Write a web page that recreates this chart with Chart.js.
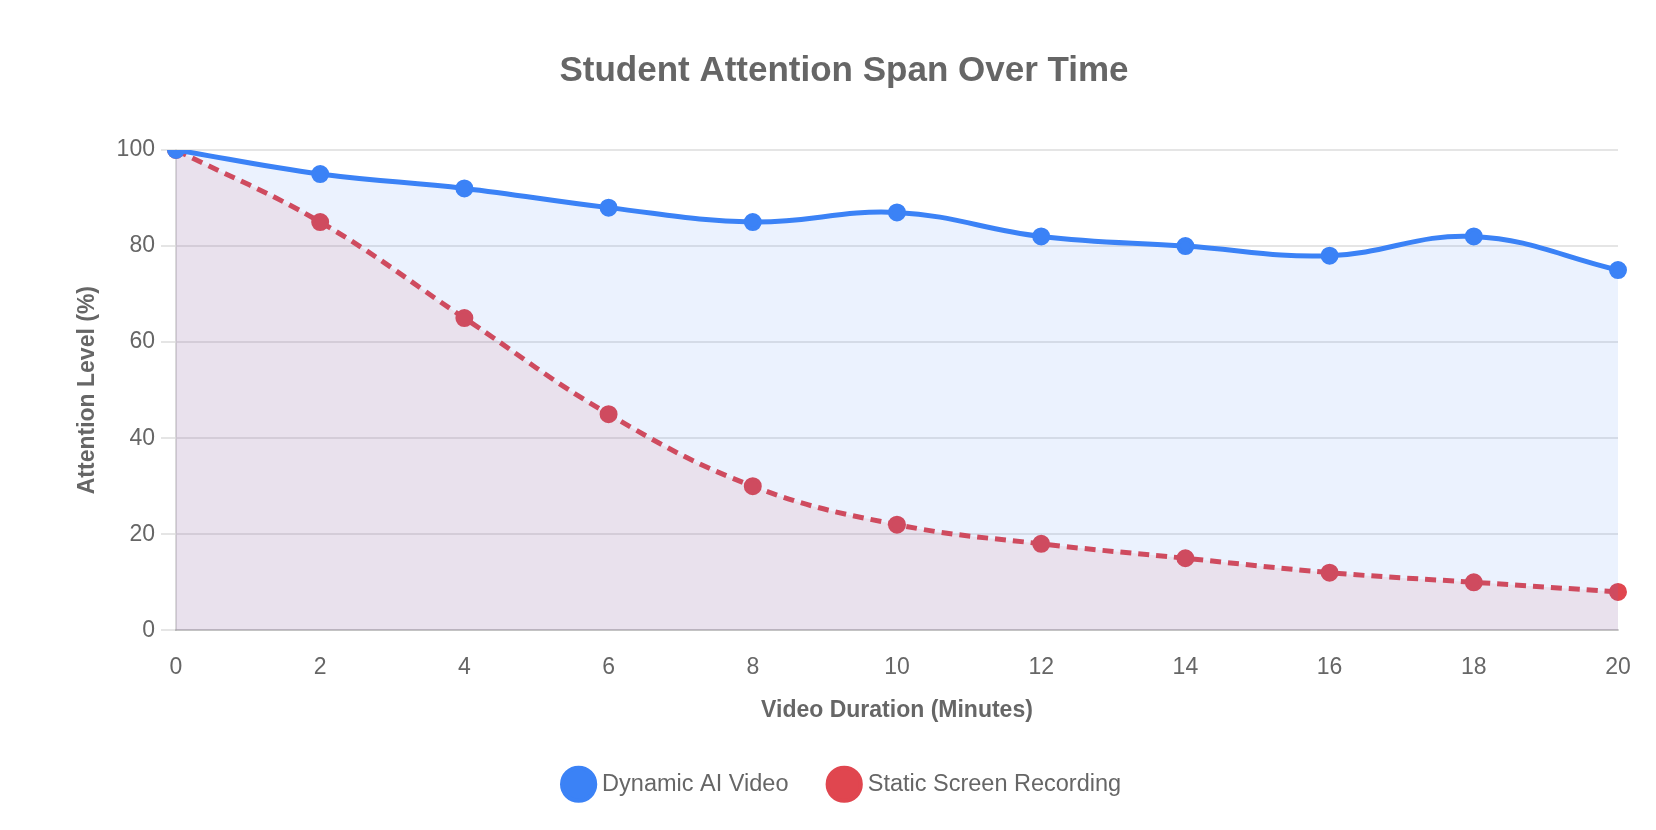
<!DOCTYPE html>
<html>
<head>
<meta charset="utf-8">
<script src="https://cdn.jsdelivr.net/npm/chart.js@4/dist/chart.umd.min.js"></script>
<style>
  html, body { margin: 0; padding: 0; background: #ffffff; }
  #wrap { width: 1656px; height: 830px; }
</style>
</head>
<body>
<div id="wrap"><canvas id="c" width="1656" height="830"></canvas></div>
<script>
const minutes = ['0', '2', '4', '6', '8', '10', '12', '14', '16', '18', '20'];
const dynamicAI = [100, 95, 92, 88, 85, 87, 82, 80, 78, 82, 75];
const staticRec = [100, 85, 65, 45, 30, 22, 18, 15, 12, 10, 8];
const yTicks = [0, 20, 40, 60, 80, 100];

const TXT = '#666666';
const FONT = 'Liberation Sans, Arial, Helvetica, sans-serif';

new Chart(document.getElementById('c'), {
  type: 'line',
  data: {
    labels: minutes,
    datasets: [
      {
        label: 'Dynamic AI Video',
        data: dynamicAI,
        borderColor: '#3b82f6',
        backgroundColor: 'rgba(59,130,246,0.1)',
        pointBackgroundColor: '#3b82f6',
        pointBorderColor: '#3b82f6',
        borderWidth: 5,
        pointRadius: 7,
        pointBorderWidth: 4,
        tension: 0.4,
        fill: 'origin'
      },
      {
        label: 'Static Screen Recording',
        data: staticRec,
        borderColor: '#e0464f',
        backgroundColor: 'rgba(239,68,68,0.1)',
        pointBackgroundColor: '#e0464f',
        pointBorderColor: '#e0464f',
        borderWidth: 5,
        borderDash: [11, 7],
        pointRadius: 7,
        pointBorderWidth: 4,
        tension: 0.4,
        fill: 'origin'
      }
    ]
  },
  options: {
    responsive: false,
    animation: false,
    devicePixelRatio: 1,
    layout: { padding: { left: 70, right: 38, top: 20, bottom: 24 } },
    plugins: {
      title: {
        display: true,
        text: 'Student Attention Span Over Time',
        color: TXT,
        font: { family: FONT, size: 35, weight: 'bold' },
        padding: { top: 30, bottom: 58 }
      },
      legend: {
        position: 'bottom',
        labels: {
          usePointStyle: true,
          pointStyle: 'circle',
          color: TXT,
          font: { family: FONT, size: 23.5 },
          padding: 44
        }
      },
      tooltip: { enabled: false }
    },
    scales: {
      x: {
        grid: { display: false, drawTicks: false },
        border: { display: true, color: 'rgba(0,0,0,0.15)', width: 2 },
        ticks: { color: TXT, font: { family: FONT, size: 23 }, padding: 24, maxRotation: 0 },
        title: {
          display: true,
          text: 'Video Duration (Minutes)',
          color: TXT,
          font: { family: FONT, size: 23, weight: 'bold' },
          padding: { top: -9, bottom: 4 }
        }
      },
      y: {
        min: 0,
        max: 100,
        afterBuildTicks: (axis) => { axis.ticks = yTicks.map(v => ({ value: v })); },
        grid: { color: 'rgba(0,0,0,0.1)', lineWidth: 2, tickLength: 15 },
        border: { display: true, color: 'rgba(0,0,0,0.15)', width: 2 },
        ticks: { color: TXT, font: { family: FONT, size: 23 }, padding: 6 },
        title: {
          display: true,
          text: 'Attention Level (%)',
          color: TXT,
          font: { family: FONT, size: 23, weight: 'bold' },
          padding: { top: 4, bottom: 9 }
        }
      }
    }
  }
});
</script>
</body>
</html>
